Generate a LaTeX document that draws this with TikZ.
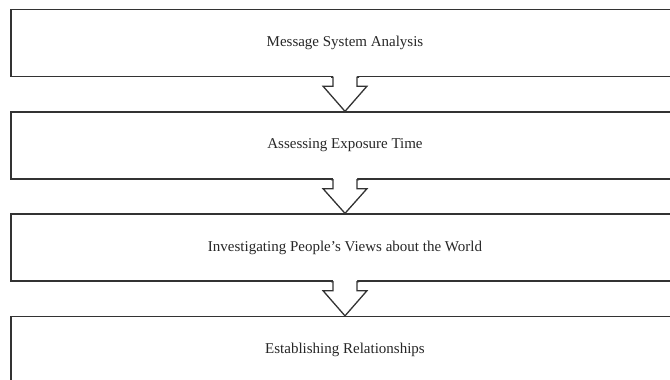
\documentclass[tikz,border=0pt]{standalone}
\usepackage{fontspec}
\setmainfont{Liberation Serif}
\usetikzlibrary{calc}
\newcommand\blockarrow[2]{%
  \fill[white] ($(#1.south)+(-12,-3)$) -- ($(#1.south)+(-12,9)$) -- ($(#1.south)+(-22,9)$)
    -- (#2.north) -- ($(#1.south)+(22,9)$) -- ($(#1.south)+(12,9)$) -- ($(#1.south)+(12,-3)$) -- cycle;
  \draw[edge] ($(#1.south)+(-14,0)$) -- ($(#1.south)+(-12,0)$) -- ($(#1.south)+(-12,9)$) -- ($(#1.south)+(-22,9)$)
    -- (#2.north) -- ($(#1.south)+(22,9)$) -- ($(#1.south)+(12,9)$) -- ($(#1.south)+(12,0)$) -- ($(#1.south)+(14,0)$);
}
\begin{document}
\begin{tikzpicture}[x=1pt,y=-1pt,
  box/.style={draw=black!80, line width=1.3pt, minimum width=668pt, minimum height=67pt,
    inner sep=0pt, font=\fontsize{15}{17}\selectfont, text=black!85},
  edge/.style={draw=black!80, line width=1.3pt, line join=miter}
  ]
\useasboundingbox (0,0) rectangle (670,380);
\node[box] (b1) at (345,43) {Message System Analysis};
\node[box] (b2) at (345,145.5) {Assessing Exposure Time};
\node[box] (b3) at (345,247.5) {Investigating People's Views about the World};
\node[box] (b4) at (345,350) {Establishing Relationships};
\blockarrow{b1}{b2}
\blockarrow{b2}{b3}
\blockarrow{b3}{b4}
\end{tikzpicture}
\end{document}
